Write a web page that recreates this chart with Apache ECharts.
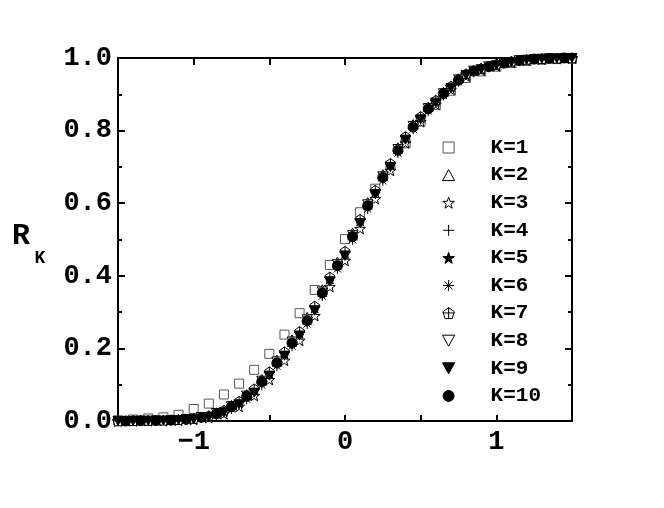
<!DOCTYPE html>
<html>
<head>
<meta charset="utf-8">
<script src="https://cdn.jsdelivr.net/npm/echarts@6/dist/echarts.min.js"></script>
<style>
  html, body { margin: 0; padding: 0; background: #fff; }
  #main { width: 664px; height: 508px; }
</style>
</head>
<body>
<div id="main"></div>
<script>
// x grids used by the series (K=1,3,5,7,9 on xsA, the rest on xsB)
const xsA = [-1.5, -1.4, -1.3, -1.2, -1.1, -1.0, -0.9, -0.8, -0.7, -0.6, -0.5, -0.4, -0.3, -0.2, -0.1, 0.0,
  0.1, 0.2, 0.3, 0.4, 0.5, 0.6, 0.7, 0.8, 0.9, 1.0, 1.1, 1.2, 1.3, 1.4, 1.5]
const xsB = [-1.45, -1.35, -1.25, -1.15, -1.05, -0.95, -0.85, -0.75, -0.65, -0.55, -0.45, -0.35, -0.25, -0.15, -0.05,
  0.05, 0.15, 0.25, 0.35, 0.45, 0.55, 0.65, 0.75, 0.85, 0.95, 1.05, 1.15, 1.25, 1.35, 1.45]

const k1 = [0.002, 0.004, 0.007, 0.010, 0.017, 0.033, 0.048, 0.073, 0.103, 0.141, 0.185, 0.238, 0.297, 0.361, 0.430, 0.501,
  0.575, 0.640, 0.703, 0.765, 0.825, 0.870, 0.910, 0.945, 0.963, 0.976, 0.986, 0.992, 0.995, 0.997, 0.998]
const k2 = [0.000, 0.001, 0.0016, 0.003, 0.006, 0.012, 0.024, 0.044, 0.074, 0.116, 0.169, 0.225, 0.287, 0.363, 0.439,
  0.519, 0.603, 0.680, 0.754, 0.818, 0.866, 0.907, 0.944, 0.967, 0.979, 0.988, 0.994, 0.998, 0.999, 1.000]
const k3 = [0.000, 0.0003, 0.0007, 0.001, 0.002, 0.004, 0.009, 0.020, 0.040, 0.070, 0.114, 0.167, 0.222, 0.290, 0.370, 0.442,
  0.530, 0.612, 0.690, 0.766, 0.824, 0.872, 0.913, 0.950, 0.966, 0.978, 0.988, 0.994, 0.997, 0.999, 1.000]
const k4 = [0.000, 0.0007, 0.0012, 0.002, 0.004, 0.009, 0.019, 0.037, 0.065, 0.105, 0.157, 0.212, 0.273, 0.350, 0.425,
  0.505, 0.590, 0.668, 0.743, 0.808, 0.858, 0.900, 0.938, 0.963, 0.976, 0.986, 0.993, 0.997, 0.999, 1.000]
const k5 = [0.000, 0.0005, 0.001, 0.0015, 0.003, 0.006, 0.013, 0.028, 0.051, 0.085, 0.131, 0.186, 0.242, 0.312, 0.392, 0.462,
  0.552, 0.632, 0.707, 0.781, 0.836, 0.881, 0.921, 0.955, 0.970, 0.981, 0.990, 0.995, 0.998, 0.999, 1.000]
const k6 = [0.000, 0.0005, 0.001, 0.0017, 0.0035, 0.008, 0.016, 0.033, 0.060, 0.099, 0.151, 0.206, 0.267, 0.344, 0.419,
  0.499, 0.584, 0.662, 0.738, 0.804, 0.854, 0.897, 0.935, 0.961, 0.975, 0.985, 0.992, 0.997, 0.999, 1.000]
const k7 = [0.000, 0.0006, 0.0012, 0.002, 0.0035, 0.007, 0.015, 0.030, 0.055, 0.089, 0.136, 0.191, 0.247, 0.317, 0.397, 0.468,
  0.556, 0.636, 0.710, 0.784, 0.839, 0.884, 0.923, 0.957, 0.972, 0.983, 0.991, 0.996, 0.998, 0.999, 1.000]
const k8 = [0.000, 0.0008, 0.0014, 0.0025, 0.005, 0.011, 0.022, 0.041, 0.070, 0.111, 0.164, 0.219, 0.280, 0.357, 0.432,
  0.512, 0.597, 0.674, 0.749, 0.813, 0.862, 0.903, 0.941, 0.965, 0.977, 0.987, 0.994, 0.997, 0.999, 1.000]
const k9 = [0.000, 0.0004, 0.0008, 0.0012, 0.0025, 0.005, 0.011, 0.024, 0.046, 0.078, 0.125, 0.180, 0.235, 0.304, 0.384, 0.455,
  0.545, 0.625, 0.700, 0.775, 0.831, 0.877, 0.917, 0.953, 0.969, 0.980, 0.989, 0.995, 0.998, 0.999, 1.000]
const k10 = [0.000, 0.0007, 0.0013, 0.0022, 0.0045, 0.010, 0.020, 0.039, 0.068, 0.108, 0.160, 0.215, 0.276, 0.353, 0.428,
  0.508, 0.593, 0.671, 0.746, 0.810, 0.860, 0.902, 0.939, 0.964, 0.976, 0.986, 0.993, 0.997, 0.999, 1.000]

const names = ['K=1', 'K=2', 'K=3', 'K=4', 'K=5', 'K=6', 'K=7', 'K=8', 'K=9', 'K=10']
const yTicks = [0, 0.2, 0.4, 0.6, 0.8, 1.0]
const xTickLabels = [-1, 0, 1]

// marker shapes
const SQUARE = 'path://M-5 -5L5 -5L5 5L-5 5Z'
const TRI_UP = 'path://M0 -5L5 4L-5 4Z'
const TRI_DOWN = 'path://M-5 -4L5 -4L0 5Z'
const STAR = 'path://M0 -10L2.35 -3.24L9.51 -3.09L3.8 1.24L5.88 8.09L0 4L-5.88 8.09L-3.8 1.24L-9.51 -3.09L-2.35 -3.24Z'
const PLUS = 'path://M0 -5L0 5M-5 0L5 0'
const ASTER = 'path://M0 -5L0 5M-5 0L5 0M-3.6 -3.6L3.6 3.6M-3.6 3.6L3.6 -3.6'
const PENT = 'path://M0 -5L4.76 -1.55L2.94 4.05L-2.94 4.05L-4.76 -1.55ZM0 -5L0 4.05M-4.76 -0.6L4.76 -0.6'

const font = 'Liberation Mono'

function pairs(xs, ys) {
  return xs.map((x, i) => [x, ys[i]])
}

function scatter(name, xs, ys, symbol, size, fill, stroke) {
  return {
    name: name,
    type: 'scatter',
    data: pairs(xs, ys),
    symbol: symbol,
    symbolSize: size,
    symbolKeepAspect: true,
    itemStyle: { color: fill, borderColor: stroke, borderWidth: 1, opacity: 1 },
    emphasis: { disabled: true }
  }
}

const series = [
  scatter(names[0], xsA, k1, SQUARE, 9, '#fff', '#555'),
  scatter(names[1], xsB, k2, TRI_UP, 10, '#fff', '#000'),
  scatter(names[2], xsA, k3, STAR, 11, '#fff', '#000'),
  scatter(names[3], xsB, k4, PLUS, 10, '#000', '#000'),
  scatter(names[4], xsA, k5, STAR, 11, '#000', '#000'),
  scatter(names[5], xsB, k6, ASTER, 10, '#000', '#000'),
  scatter(names[6], xsA, k7, PENT, 10, '#fff', '#000'),
  scatter(names[7], xsB, k8, TRI_DOWN, 10, '#fff', '#000'),
  scatter(names[8], xsA, k9, TRI_DOWN, 10, '#000', '#000'),
  scatter(names[9], xsB, k10, 'circle', 10, '#000', '#000')
]

const axisLine = { show: true, onZero: false, lineStyle: { color: '#000', width: 2 } }

const chart = echarts.init(document.getElementById('main'))
chart.setOption({
  animation: false,
  backgroundColor: '#fff',
  grid: { left: 118, right: 92, top: 58, bottom: 87, containLabel: false },
  xAxis: [
    {
      type: 'value', position: 'bottom', min: -1.5, max: 1.5, interval: 0.5,
      splitLine: { show: false },
      axisLine: axisLine,
      axisTick: { inside: true, length: 6, lineStyle: { color: '#000', width: 2 } },
      axisLabel: {
        margin: 8, color: '#000', fontFamily: font, fontWeight: 'bold', fontSize: 27,
        formatter: (v) => xTickLabels.includes(v) ? (v < 0 ? '\u2212' + Math.abs(v) : String(v)) : ''
      }
    },
    {
      type: 'value', position: 'top', min: -1.5, max: 1.5, interval: 0.5,
      splitLine: { show: false },
      axisLine: axisLine,
      axisTick: { inside: true, length: 7, lineStyle: { color: '#000', width: 2 } },
      axisLabel: { show: false }
    }
  ],
  yAxis: [
    {
      type: 'value', position: 'left', min: 0, max: 1, interval: 0.2,
      splitLine: { show: false },
      axisLine: axisLine,
      axisTick: { inside: true, length: 7, lineStyle: { color: '#000', width: 2 } },
      minorTick: { show: true, splitNumber: 2, length: 4, lineStyle: { color: '#000', width: 2 } },
      axisLabel: {
        margin: 6, color: '#000', fontFamily: font, fontWeight: 'bold', fontSize: 27,
        formatter: (v) => yTicks.some((t) => Math.abs(t - v) < 1e-9) ? v.toFixed(1) : ''
      }
    },
    {
      type: 'value', position: 'right', min: 0, max: 1, interval: 0.2,
      splitLine: { show: false },
      axisLine: axisLine,
      axisTick: { inside: true, length: 7, lineStyle: { color: '#000', width: 2 } },
      minorTick: { show: true, splitNumber: 2, length: 4, lineStyle: { color: '#000', width: 2 } },
      axisLabel: { show: false }
    }
  ],
  legend: {
    orient: 'vertical',
    left: 437,
    top: 132,
    itemWidth: 74,
    itemHeight: 11,
    itemGap: 6.6,
    symbolKeepAspect: true,
    selectedMode: false,
    data: names,
    itemStyle: { borderWidth: 1 },
    textStyle: { color: '#000', fontFamily: font, fontWeight: 'bold', fontSize: 21 }
  },
  graphic: [
    {
      type: 'text', x: 21, y: 236,
      style: { text: 'R', fill: '#000', font: 'bold 30px "Liberation Mono"', align: 'center', verticalAlign: 'middle', textAlign: 'center', textVerticalAlign: 'middle' }
    },
    {
      type: 'text', x: 40, y: 258,
      style: { text: 'K', fill: '#000', font: 'bold 18px "Liberation Mono"', align: 'center', verticalAlign: 'middle', textAlign: 'center', textVerticalAlign: 'middle' }
    }
  ],
  series: series
})
</script>
</body>
</html>
